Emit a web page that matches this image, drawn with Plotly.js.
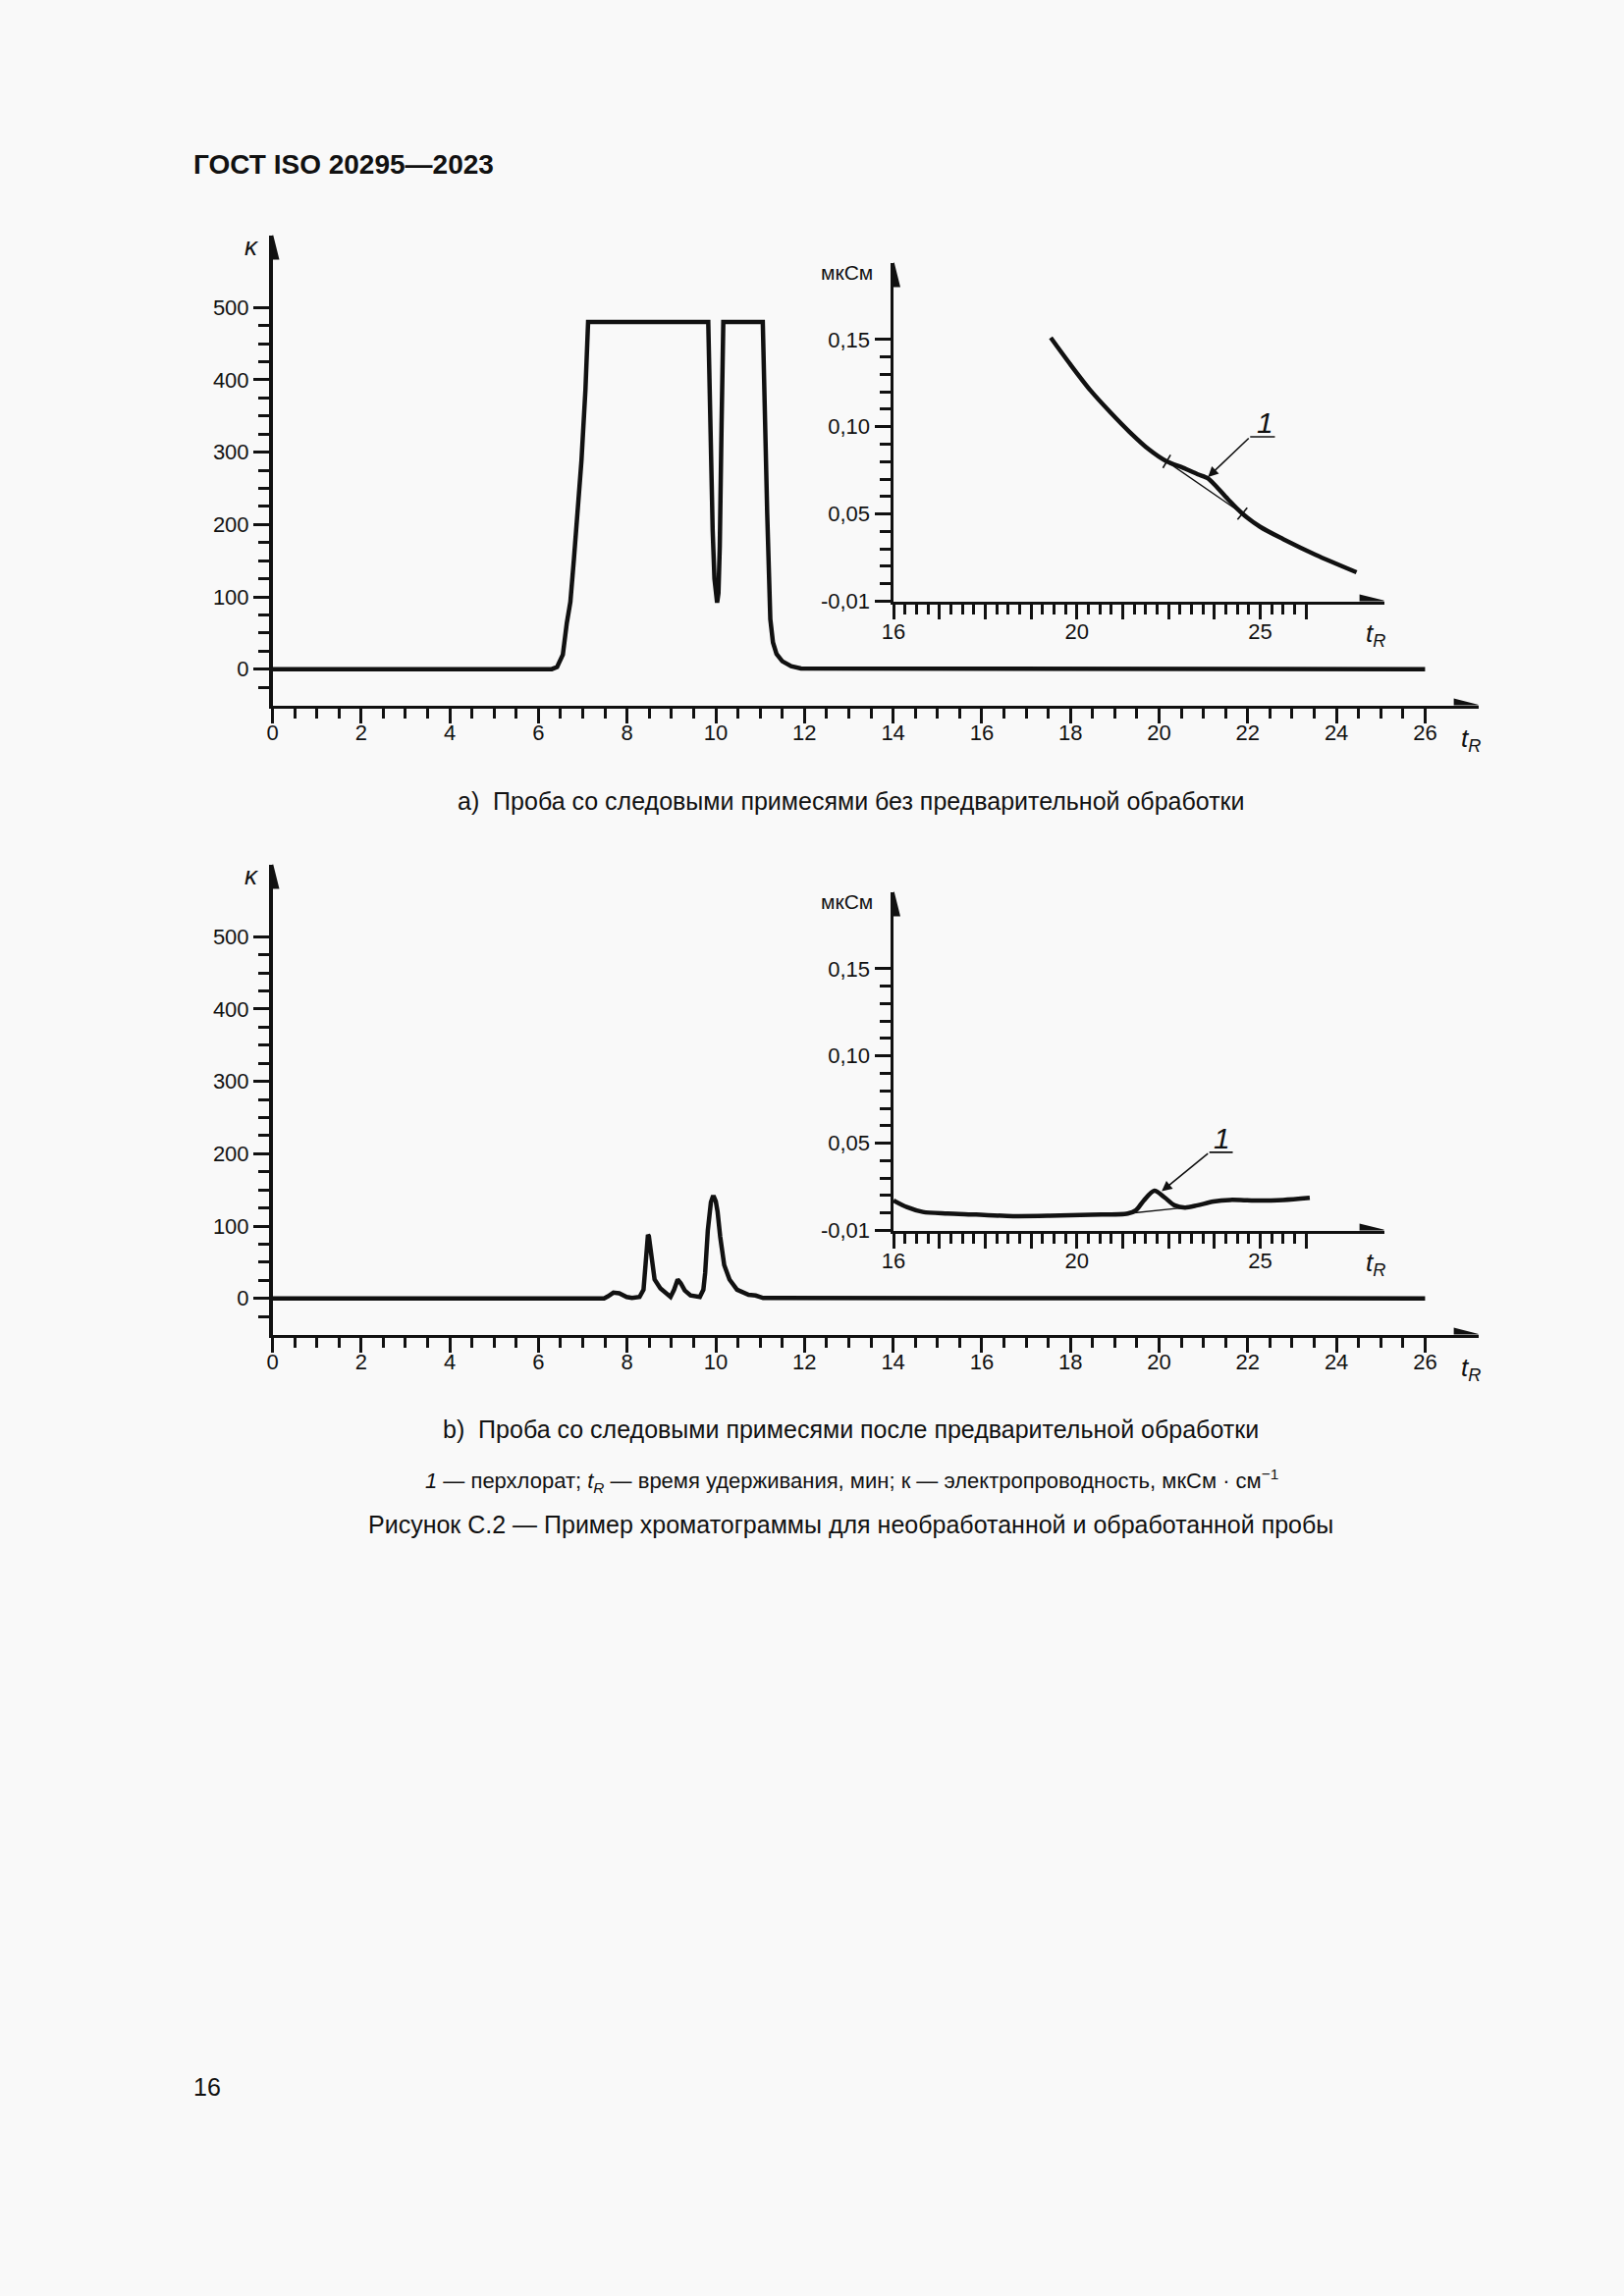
<!DOCTYPE html>
<html>
<head>
<meta charset="utf-8">
<script src="https://cdn.plot.ly/plotly-3.0.1.min.js"></script>
<style>
  html, body { margin: 0; padding: 0; background: #f9f9f9; }
  #chart { width: 1654px; height: 2339px; }
</style>
</head>
<body>
<div id="chart"></div>
<script>
// ---------- data ----------
// a) main chromatogram (untreated sample)
const aTime = [0, 6.3, 6.42, 6.55, 6.64, 6.72, 6.8, 6.89, 6.97, 7.06, 7.12, 9.83, 9.87, 9.93, 9.97, 10.0, 10.03, 10.06, 10.09, 10.13, 10.17, 11.06, 11.09, 11.16, 11.23, 11.29, 11.37, 11.5, 11.7, 11.92, 26];
const aKappa = [0, 0, 3, 20, 64, 93, 152, 215, 288, 386, 480, 480, 337, 191, 125, 100, 92, 105, 170, 337, 480, 480, 386, 215, 69, 37, 21, 11, 4, 1, 0];

// a) inset (zoomed tail, µS)
const aInsetTime = [19.43, 19.86, 20.30, 20.75, 21.15, 21.57, 21.96, 22.32, 22.64, 22.86, 23.03, 23.29, 23.61, 24.0, 24.5, 25.21, 26.1];
const aInsetCond = [0.151, 0.1356, 0.1207, 0.1077, 0.097, 0.087, 0.0801, 0.0764, 0.0727, 0.0704, 0.0661, 0.0586, 0.0502, 0.0426, 0.0356, 0.0266, 0.0166];
const aBaseTime = [21.96, 23.61];
const aBaseCond = [0.0801, 0.0502];

// b) main chromatogram (treated sample)
const bTime = [0, 7.48, 7.57, 7.69, 7.82, 7.99, 8.11, 8.28, 8.37, 8.41, 8.45, 8.47, 8.49, 8.52, 8.56, 8.62, 8.75, 8.88, 8.98, 9.06, 9.14, 9.21, 9.30, 9.43, 9.64, 9.72, 9.76, 9.82, 9.89, 9.93, 9.96, 10.0, 10.04, 10.10, 10.19, 10.31, 10.48, 10.74, 10.9, 11.07, 26];
const bKappa = [0, 0, 3, 8, 7, 2, 0.5, 2, 12, 46, 82, 88, 86, 70, 46, 26, 14, 7, 2, 12, 26, 21, 11, 4, 2, 12, 35, 94, 133, 140, 140, 134, 120, 85, 46, 26, 12, 5, 4, 0.5, 0];

// b) inset
const bInsetTime = [16.0, 16.29, 16.64, 17.18, 17.80, 18.61, 19.41, 20.30, 21.11, 21.29, 21.46, 21.69, 21.91, 22.13, 22.36, 22.63, 22.98, 23.34, 23.88, 24.5, 25.08];
const bInsetCond = [0.0172, 0.0134, 0.0106, 0.0097, 0.0091, 0.0082, 0.0084, 0.009, 0.0097, 0.0116, 0.0172, 0.0228, 0.019, 0.0144, 0.0131, 0.0144, 0.0166, 0.0175, 0.0172, 0.0175, 0.0187];
const bBaseTime = [21.11, 22.36];
const bBaseCond = [0.0097, 0.0131];

// tick labels
const mainXTicks = [0, 2, 4, 6, 8, 10, 12, 14, 16, 18, 20, 22, 24, 26];
const mainXTickText = ['0', '2', '4', '6', '8', '10', '12', '14', '16', '18', '20', '22', '24', '26'];
const mainYTicks = [0, 100, 200, 300, 400, 500];
const mainYTickText = ['0', '100', '200', '300', '400', '500'];
const insetXTicks = [16, 17, 18, 19, 20, 21, 22, 23, 24, 25];
const insetXTickText = ['16', '', '', '', '20', '', '', '', '25', ''];
const insetYTicks = [0, 0.05, 0.10, 0.15];
const insetYTickText = ['-0,01', '0,05', '0,10', '0,15'];

// text
const headerText = '<b>ГОСТ ISO 20295—2023</b>';
const captionA = 'а)  Проба со следовыми примесями без предварительной обработки';
const captionB = 'b)  Проба со следовыми примесями после предварительной обработки';
const legendText = '<i>1</i> — перхлорат; <i>t</i><sub><i>R</i></sub> — время удерживания, мин; к — электропроводность, мкСм · см<sup>−1</sup>';
const figureTitle = 'Рисунок С.2 — Пример хроматограммы для необработанной и обработанной пробы';
const pageNumber = '16';

// ---------- helpers (page pixels -> paper fractions) ----------
const W = 1654, H = 2339;
const fx = p => p / W;
const fy = p => 1 - p / H;
function steps(from, to, step, excludeEvery) {
  const out = [];
  const n = Math.round((to - from) / step);
  for (let i = 0; i <= n; i++) {
    const v = Math.round((from + i * step) * 1000) / 1000;
    if (excludeEvery && Math.abs(v / excludeEvery - Math.round(v / excludeEvery)) < 1e-6) continue;
    out.push(v);
  }
  return out;
}

const INK = '#111111';
const FONT = 'Liberation Sans, Arial, sans-serif';
const SHIFT = 641; // vertical offset of panel b

// ---------- traces ----------
const traces = [
  { x: aTime, y: aKappa, xaxis: 'x', yaxis: 'y', mode: 'lines', line: { color: INK, width: 4.5, shape: 'linear' }, hoverinfo: 'skip' },
  { x: aInsetTime, y: aInsetCond, xaxis: 'x2', yaxis: 'y2', mode: 'lines', line: { color: INK, width: 4.5, shape: 'spline', smoothing: 0.8 }, hoverinfo: 'skip' },
  { x: aBaseTime, y: aBaseCond, xaxis: 'x2', yaxis: 'y2', mode: 'lines+markers', line: { color: INK, width: 1.3 },
    marker: { symbol: 'line-ns', size: 11, angle: [30, 40], line: { width: 1.6, color: INK } }, hoverinfo: 'skip' },
  { x: bTime, y: bKappa, xaxis: 'x3', yaxis: 'y3', mode: 'lines', line: { color: INK, width: 4.5, shape: 'linear' }, hoverinfo: 'skip' },
  { x: bInsetTime, y: bInsetCond, xaxis: 'x4', yaxis: 'y4', mode: 'lines', line: { color: INK, width: 4.5, shape: 'spline', smoothing: 0.8 }, hoverinfo: 'skip' },
  { x: bBaseTime, y: bBaseCond, xaxis: 'x4', yaxis: 'y4', mode: 'lines', line: { color: INK, width: 1.3 }, hoverinfo: 'skip' }
];

// ---------- axes ----------
const tickFont = { family: FONT, size: 22, color: INK };
function xAxis(domain, range, anchor, tickvals, ticktext, minorvals, standoff) {
  return {
    domain: domain, range: range, anchor: anchor, showline: true, linewidth: 3.5, linecolor: INK,
    showgrid: false, zeroline: false, ticks: 'outside', ticklen: 15, tickwidth: 3, tickcolor: INK,
    tickmode: 'array', tickvals: tickvals, ticktext: ticktext, tickfont: tickFont, ticklabelstandoff: standoff,
    minor: { tickmode: 'array', tickvals: minorvals, ticks: 'outside', ticklen: 10, tickwidth: 3, tickcolor: INK, showgrid: false },
    fixedrange: true
  };
}
function yAxis(domain, range, anchor, tickvals, ticktext, minorvals) {
  return {
    domain: domain, range: range, anchor: anchor, showline: true, linewidth: 3.5, linecolor: INK,
    showgrid: false, zeroline: false, ticks: 'outside', ticklen: 16, tickwidth: 3, tickcolor: INK,
    tickmode: 'array', tickvals: tickvals, ticktext: ticktext, tickfont: tickFont,
    minor: { tickmode: 'array', tickvals: minorvals, ticks: 'outside', ticklen: 11, tickwidth: 3, tickcolor: INK, showgrid: false },
    fixedrange: true
  };
}

const mainXMinor = steps(0.5, 25.5, 0.5, 2);
const mainYMinor = [-25].concat(steps(25, 475, 25, 100));
const insetXMinor = steps(16.25, 24.75, 0.25, 1);
const insetYMinor = steps(0.01, 0.14, 0.01, 0.05);

// pixel geometry of panels
const mainX = [fx(277.5), fx(1505.6)];
const mainXRange = [0, 27.2];
const mainYRange = [-50, 600];
const mainYa = [fy(718.55), fy(239.5)];
const mainYb = [fy(718.55 + SHIFT), fy(239.5 + SHIFT)];
const insX = [fx(910), fx(1409.6)];
const insXRange = [16, 26.7];
const insYRange = [0, 0.194];
const insYa = [fy(612.5), fy(267.6)];
const insYb = [fy(612.5 + SHIFT), fy(267.6 + SHIFT)];

// arrowheads on axes (pixel sized paths anchored at axis ends)
function arrowUp(xref, yref, x, y) {
  return { type: 'path', xref: xref, yref: yref, xsizemode: 'pixel', ysizemode: 'pixel', xanchor: x, yanchor: y,
    path: 'M 0 3 L -7 -25 L 7 -25 Z', fillcolor: INK, line: { width: 0 }, layer: 'above' };
}
function arrowRight(xref, yref, x, y) {
  return { type: 'path', xref: xref, yref: yref, xsizemode: 'pixel', ysizemode: 'pixel', xanchor: x, yanchor: y,
    path: 'M 3 0 L -25 7 L -25 -7 Z', fillcolor: INK, line: { width: 0 }, layer: 'above' };
}

const shapes = [
  arrowUp('x', 'y', 0, 600), arrowRight('x', 'y', 27.2, -50),
  arrowUp('x3', 'y3', 0, 600), arrowRight('x3', 'y3', 27.2, -50),
  arrowUp('x2', 'y2', 16, 0.194), arrowRight('x2', 'y2', 26.7, 0),
  arrowUp('x4', 'y4', 16, 0.194), arrowRight('x4', 'y4', 26.7, 0),
  // leader underlines for label "1"
  { type: 'line', xref: 'x2', yref: 'y2', x0: 23.78, x1: 24.32, y0: 0.0942, y1: 0.0942, line: { color: INK, width: 1.6 } },
  { type: 'line', xref: 'x4', yref: 'y4', x0: 22.89, x1: 23.40, y0: 0.0448, y1: 0.0448, line: { color: INK, width: 1.6 } }
];

function txt(x, y, text, size, opts) {
  return Object.assign({ xref: 'paper', yref: 'paper', x: x, y: y, text: text, showarrow: false,
    font: { family: FONT, size: size, color: INK }, xanchor: 'center', yanchor: 'middle' }, opts || {});
}

const annotations = [
  txt(fx(195), fy(168), headerText, 28, { xanchor: 'left' }),
  txt(fx(866.6), fy(816), captionA, 25),
  txt(fx(866.6), fy(1456), captionB, 25),
  txt(fx(867), fy(1508), legendText, 22),
  txt(fx(866), fy(1553), figureTitle, 25),
  txt(fx(195), fy(2126), pageNumber, 25, { xanchor: 'left' }),
  // axis names
  txt(fx(256.5), fy(250.6), '<i>κ</i>', 26),
  txt(fx(256.5), fy(250.6 + SHIFT), '<i>κ</i>', 26),
  txt(fx(1498), fy(753), '<i>t</i><sub><i>R</i></sub>', 26),
  txt(fx(1498), fy(753 + SHIFT), '<i>t</i><sub><i>R</i></sub>', 26),
  txt(fx(1401), fy(646), '<i>t</i><sub><i>R</i></sub>', 26),
  txt(fx(1401), fy(646 + SHIFT), '<i>t</i><sub><i>R</i></sub>', 26),
  txt(fx(862), fy(277.5), 'мкСм', 21),
  txt(fx(862), fy(277.5 + SHIFT), 'мкСм', 21),
  // peak label "1" with leader arrows
  { xref: 'x2', yref: 'y2', x: 24.1, y: 0.1022, text: '<i>1</i>', showarrow: false, font: { family: FONT, size: 30, color: INK } },
  { xref: 'x2', yref: 'y2', x: 22.86, y: 0.0712, axref: 'x2', ayref: 'y2', ax: 23.78, ay: 0.0942, text: '',
    showarrow: true, arrowhead: 2, arrowsize: 1.3, arrowwidth: 1.6, arrowcolor: INK, standoff: 0, startstandoff: 0 },
  { xref: 'x4', yref: 'y4', x: 23.16, y: 0.0526, text: '<i>1</i>', showarrow: false, font: { family: FONT, size: 30, color: INK } },
  { xref: 'x4', yref: 'y4', x: 21.85, y: 0.0225, axref: 'x4', ayref: 'y4', ax: 22.89, ay: 0.0448, text: '',
    showarrow: true, arrowhead: 2, arrowsize: 1.3, arrowwidth: 1.6, arrowcolor: INK, standoff: 0, startstandoff: 0 }
];

const layout = {
  width: W, height: H, margin: { l: 0, r: 0, t: 0, b: 0 },
  paper_bgcolor: '#f9f9f9', plot_bgcolor: 'rgba(0,0,0,0)',
  showlegend: false, font: { family: FONT, color: INK },
  xaxis: xAxis(mainX, mainXRange, 'y', mainXTicks, mainXTickText, mainXMinor, -9),
  yaxis: yAxis(mainYa, mainYRange, 'x', mainYTicks, mainYTickText, mainYMinor),
  xaxis2: xAxis(insX, insXRange, 'y2', insetXTicks, insetXTickText, insetXMinor, -6),
  yaxis2: yAxis(insYa, insYRange, 'x2', insetYTicks, insetYTickText, insetYMinor),
  xaxis3: xAxis(mainX, mainXRange, 'y3', mainXTicks, mainXTickText, mainXMinor, -9),
  yaxis3: yAxis(mainYb, mainYRange, 'x3', mainYTicks, mainYTickText, mainYMinor),
  xaxis4: xAxis(insX, insXRange, 'y4', insetXTicks, insetXTickText, insetXMinor, -6),
  yaxis4: yAxis(insYb, insYRange, 'x4', insetYTicks, insetYTickText, insetYMinor),
  shapes: shapes,
  annotations: annotations
};

Plotly.newPlot('chart', traces, layout, { staticPlot: true, displayModeBar: false });
</script>
</body>
</html>
